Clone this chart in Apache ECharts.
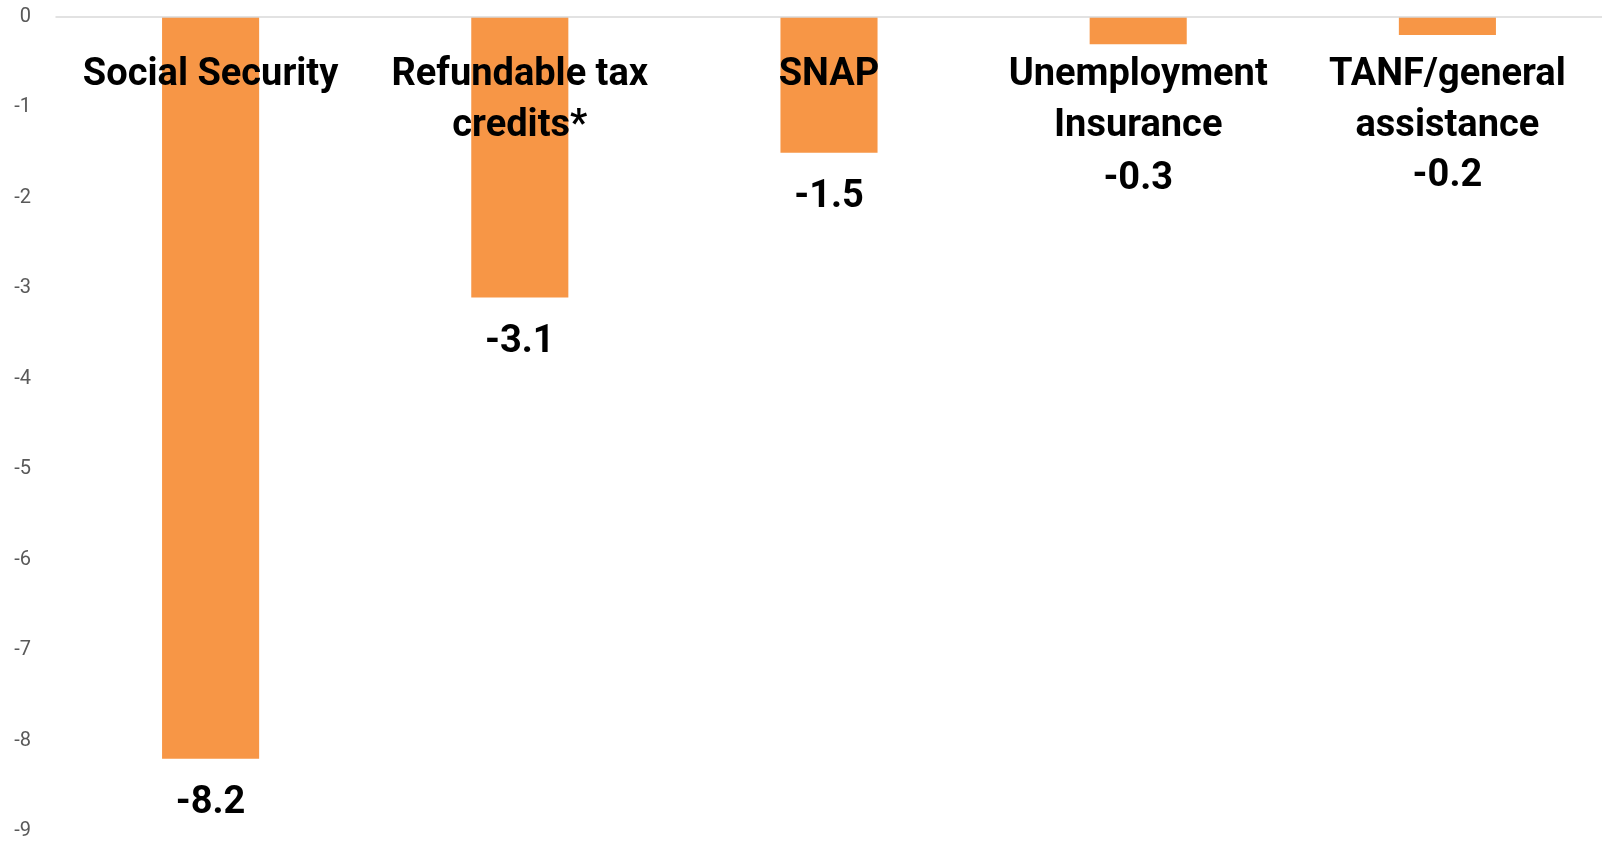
<!DOCTYPE html>
<html>
<head>
<meta charset="utf-8">
<title>Poverty reduction by program</title>
<script src="https://cdn.jsdelivr.net/npm/echarts@6/dist/echarts.min.js"></script>
<style>
  html, body { margin: 0; padding: 0; background: #ffffff; }
  #chart { width: 1602px; height: 841px; }
</style>
</head>
<body>
<div id="chart"></div>
<script>
// Programs and their change in the poverty rate (percentage points)
const categories = [
  'Social Security',
  'Refundable tax\ncredits*',
  'SNAP',
  'Unemployment\nInsurance',
  'TANF/general\nassistance'
];
const values = [-8.2, -3.1, -1.5, -0.3, -0.2];

// Value-axis ticks
const yMin = -9;
const yMax = 0;
const yStep = 1;

// Extra downward push for value labels that would collide with the program names
const labelShift = [0, 0, 0, 90, 96];

const textFont = 'Roboto, "Liberation Sans", sans-serif';

const chart = echarts.init(document.getElementById('chart'), null, { renderer: 'canvas' });

chart.setOption({
  animation: false,
  backgroundColor: '#ffffff',
  grid: { left: 56, right: 0, top: 17, bottom: 7, containLabel: false },
  xAxis: {
    type: 'category',
    data: categories,
    position: 'top',
    z: 10,
    axisLine: { show: true, onZero: true, lineStyle: { color: '#D9D9D9', width: 1.5 } },
    axisTick: { show: false },
    splitLine: { show: false },
    axisLabel: {
      inside: true,
      interval: 0,
      margin: 33,
      color: '#000000',
      fontFamily: textFont,
      fontWeight: 'bold',
      fontSize: 38,
      lineHeight: 51,
      align: 'center',
      verticalAlign: 'top'
    }
  },
  yAxis: {
    type: 'value',
    min: yMin,
    max: yMax,
    interval: yStep,
    axisLine: { show: false },
    axisTick: { show: false },
    splitLine: { show: false },
    axisLabel: {
      color: '#595959',
      fontFamily: textFont,
      fontSize: 20,
      margin: 25
    }
  },
  series: [{
    type: 'bar',
    data: values.map((v, i) => ({
      value: v,
      label: { offset: [0, labelShift[i]] }
    })),
    barWidth: '31.4%',
    itemStyle: { color: '#F79646' },
    label: {
      show: true,
      position: 'bottom',
      distance: 26,
      color: '#000000',
      fontFamily: textFont,
      fontWeight: 'bold',
      fontSize: 38,
      formatter: p => p.value.toFixed(1)
    },
    z: 1
  }]
});
</script>
</body>
</html>
